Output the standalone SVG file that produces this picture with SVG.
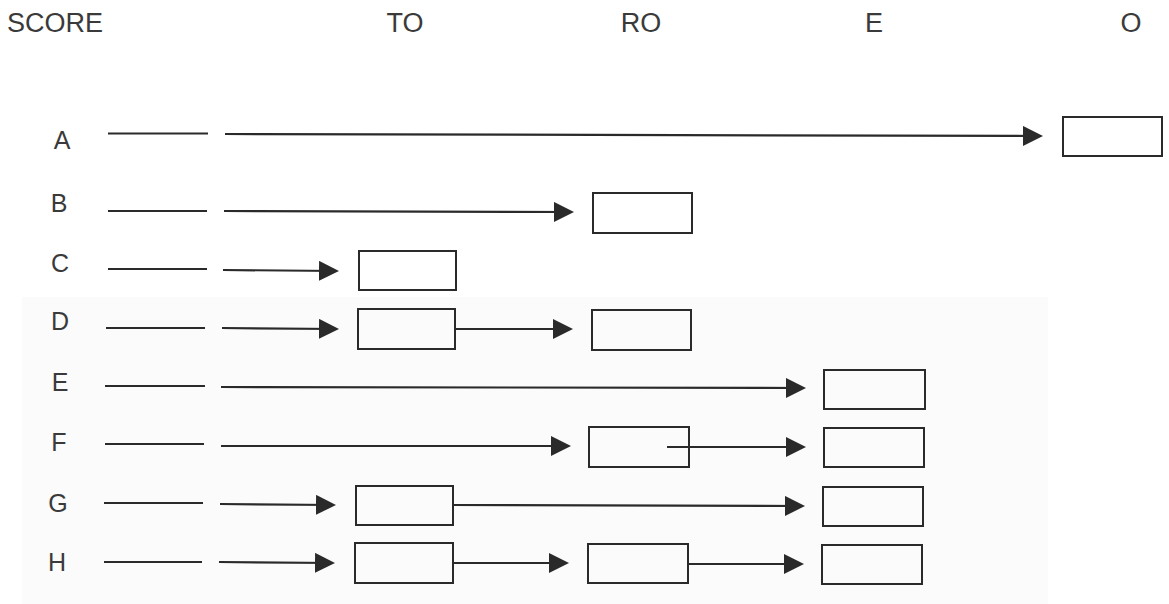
<svg xmlns="http://www.w3.org/2000/svg" width="1169" height="604" viewBox="0 0 1169 604">
<style>
.hdr{font-family:"Liberation Sans",Arial,sans-serif;font-size:27px;fill:#3a3a3a;}
.lbl{font-family:"Liberation Sans",Arial,sans-serif;font-size:25px;fill:#3a3a3a;text-anchor:middle;}
.box{fill:none;stroke:#2a2a2a;stroke-width:2;}
.ln{stroke:#2a2a2a;stroke-width:2.2;fill:none;}
.ar{stroke:#2a2a2a;stroke-width:2.2;fill:none;marker-end:url(#ah);}
</style>
<defs>
<marker id="ah" markerUnits="userSpaceOnUse" markerWidth="22" markerHeight="22" refX="18" refY="10" orient="auto" viewBox="0 0 22 22">
<path d="M0,0 L20,10 L0,20 Z" fill="#2a2a2a"/>
</marker>
</defs>
<rect x="0" y="0" width="1169" height="604" fill="#ffffff"/>
<rect x="22" y="297" width="1026" height="307" fill="#fbfbfb"/>

<g id="headers">
<text class="hdr" x="7" y="32">SCORE</text>
<text class="hdr" x="405" y="32" text-anchor="middle">TO</text>
<text class="hdr" x="641" y="32" text-anchor="middle">RO</text>
<text class="hdr" x="874" y="32" text-anchor="middle">E</text>
<text class="hdr" x="1131" y="32" text-anchor="middle">O</text>
</g>

<g id="row-labels">
<text class="lbl" x="62" y="149">A</text>
<text class="lbl" x="59" y="212">B</text>
<text class="lbl" x="60" y="272">C</text>
<text class="lbl" x="60" y="330">D</text>
<text class="lbl" x="60" y="391">E</text>
<text class="lbl" x="59" y="451">F</text>
<text class="lbl" x="58" y="512">G</text>
<text class="lbl" x="57" y="571">H</text>
</g>

<g id="connectors">
<line class="ln" x1="108" y1="133.5" x2="208" y2="133.5"/>
<line class="ar" x1="225" y1="134" x2="1041" y2="136"/>
<line class="ln" x1="108" y1="211" x2="207" y2="211"/>
<line class="ar" x1="224" y1="211" x2="572" y2="212"/>
<line class="ln" x1="108" y1="269" x2="207" y2="269"/>
<line class="ar" x1="223" y1="270" x2="337" y2="271"/>
<line class="ln" x1="106" y1="328" x2="205" y2="328"/>
<line class="ar" x1="222" y1="328" x2="337" y2="329"/>
<line class="ar" x1="456" y1="329" x2="571" y2="329"/>
<line class="ln" x1="105" y1="386" x2="205" y2="386"/>
<line class="ar" x1="221" y1="387" x2="804" y2="388"/>
<line class="ln" x1="105" y1="444" x2="204" y2="444"/>
<line class="ar" x1="221" y1="446" x2="569" y2="446"/>
<line class="ar" x1="667" y1="447" x2="804" y2="447"/>
<line class="ln" x1="104" y1="503" x2="203" y2="503"/>
<line class="ar" x1="220" y1="504" x2="334" y2="505"/>
<line class="ar" x1="453" y1="505" x2="803" y2="506"/>
<line class="ln" x1="104" y1="562" x2="202" y2="562"/>
<line class="ar" x1="219" y1="562" x2="333" y2="563"/>
<line class="ar" x1="453" y1="563" x2="567" y2="563"/>
<line class="ar" x1="688" y1="564" x2="802" y2="564"/>
</g>

<g id="node-A-O"><rect class="box" x="1063" y="117" width="99" height="39"/></g>
<g id="node-B-RO"><rect class="box" x="593" y="193" width="99" height="40"/></g>
<g id="node-C-TO"><rect class="box" x="359" y="251" width="97" height="39"/></g>
<g id="node-D-TO"><rect class="box" x="358" y="309" width="97" height="40"/></g>
<g id="node-D-RO"><rect class="box" x="592" y="310" width="99" height="40"/></g>
<g id="node-E-E"><rect class="box" x="824" y="370" width="101" height="39"/></g>
<g id="node-F-RO"><rect class="box" x="589" y="427" width="100" height="40"/></g>
<g id="node-F-E"><rect class="box" x="824" y="428" width="100" height="39"/></g>
<g id="node-G-TO"><rect class="box" x="356" y="486" width="97" height="39"/></g>
<g id="node-G-E"><rect class="box" x="823" y="487" width="100" height="39"/></g>
<g id="node-H-TO"><rect class="box" x="355" y="543" width="98" height="40"/></g>
<g id="node-H-RO"><rect class="box" x="588" y="544" width="100" height="39"/></g>
<g id="node-H-E"><rect class="box" x="822" y="545" width="100" height="39"/></g>
</svg>
